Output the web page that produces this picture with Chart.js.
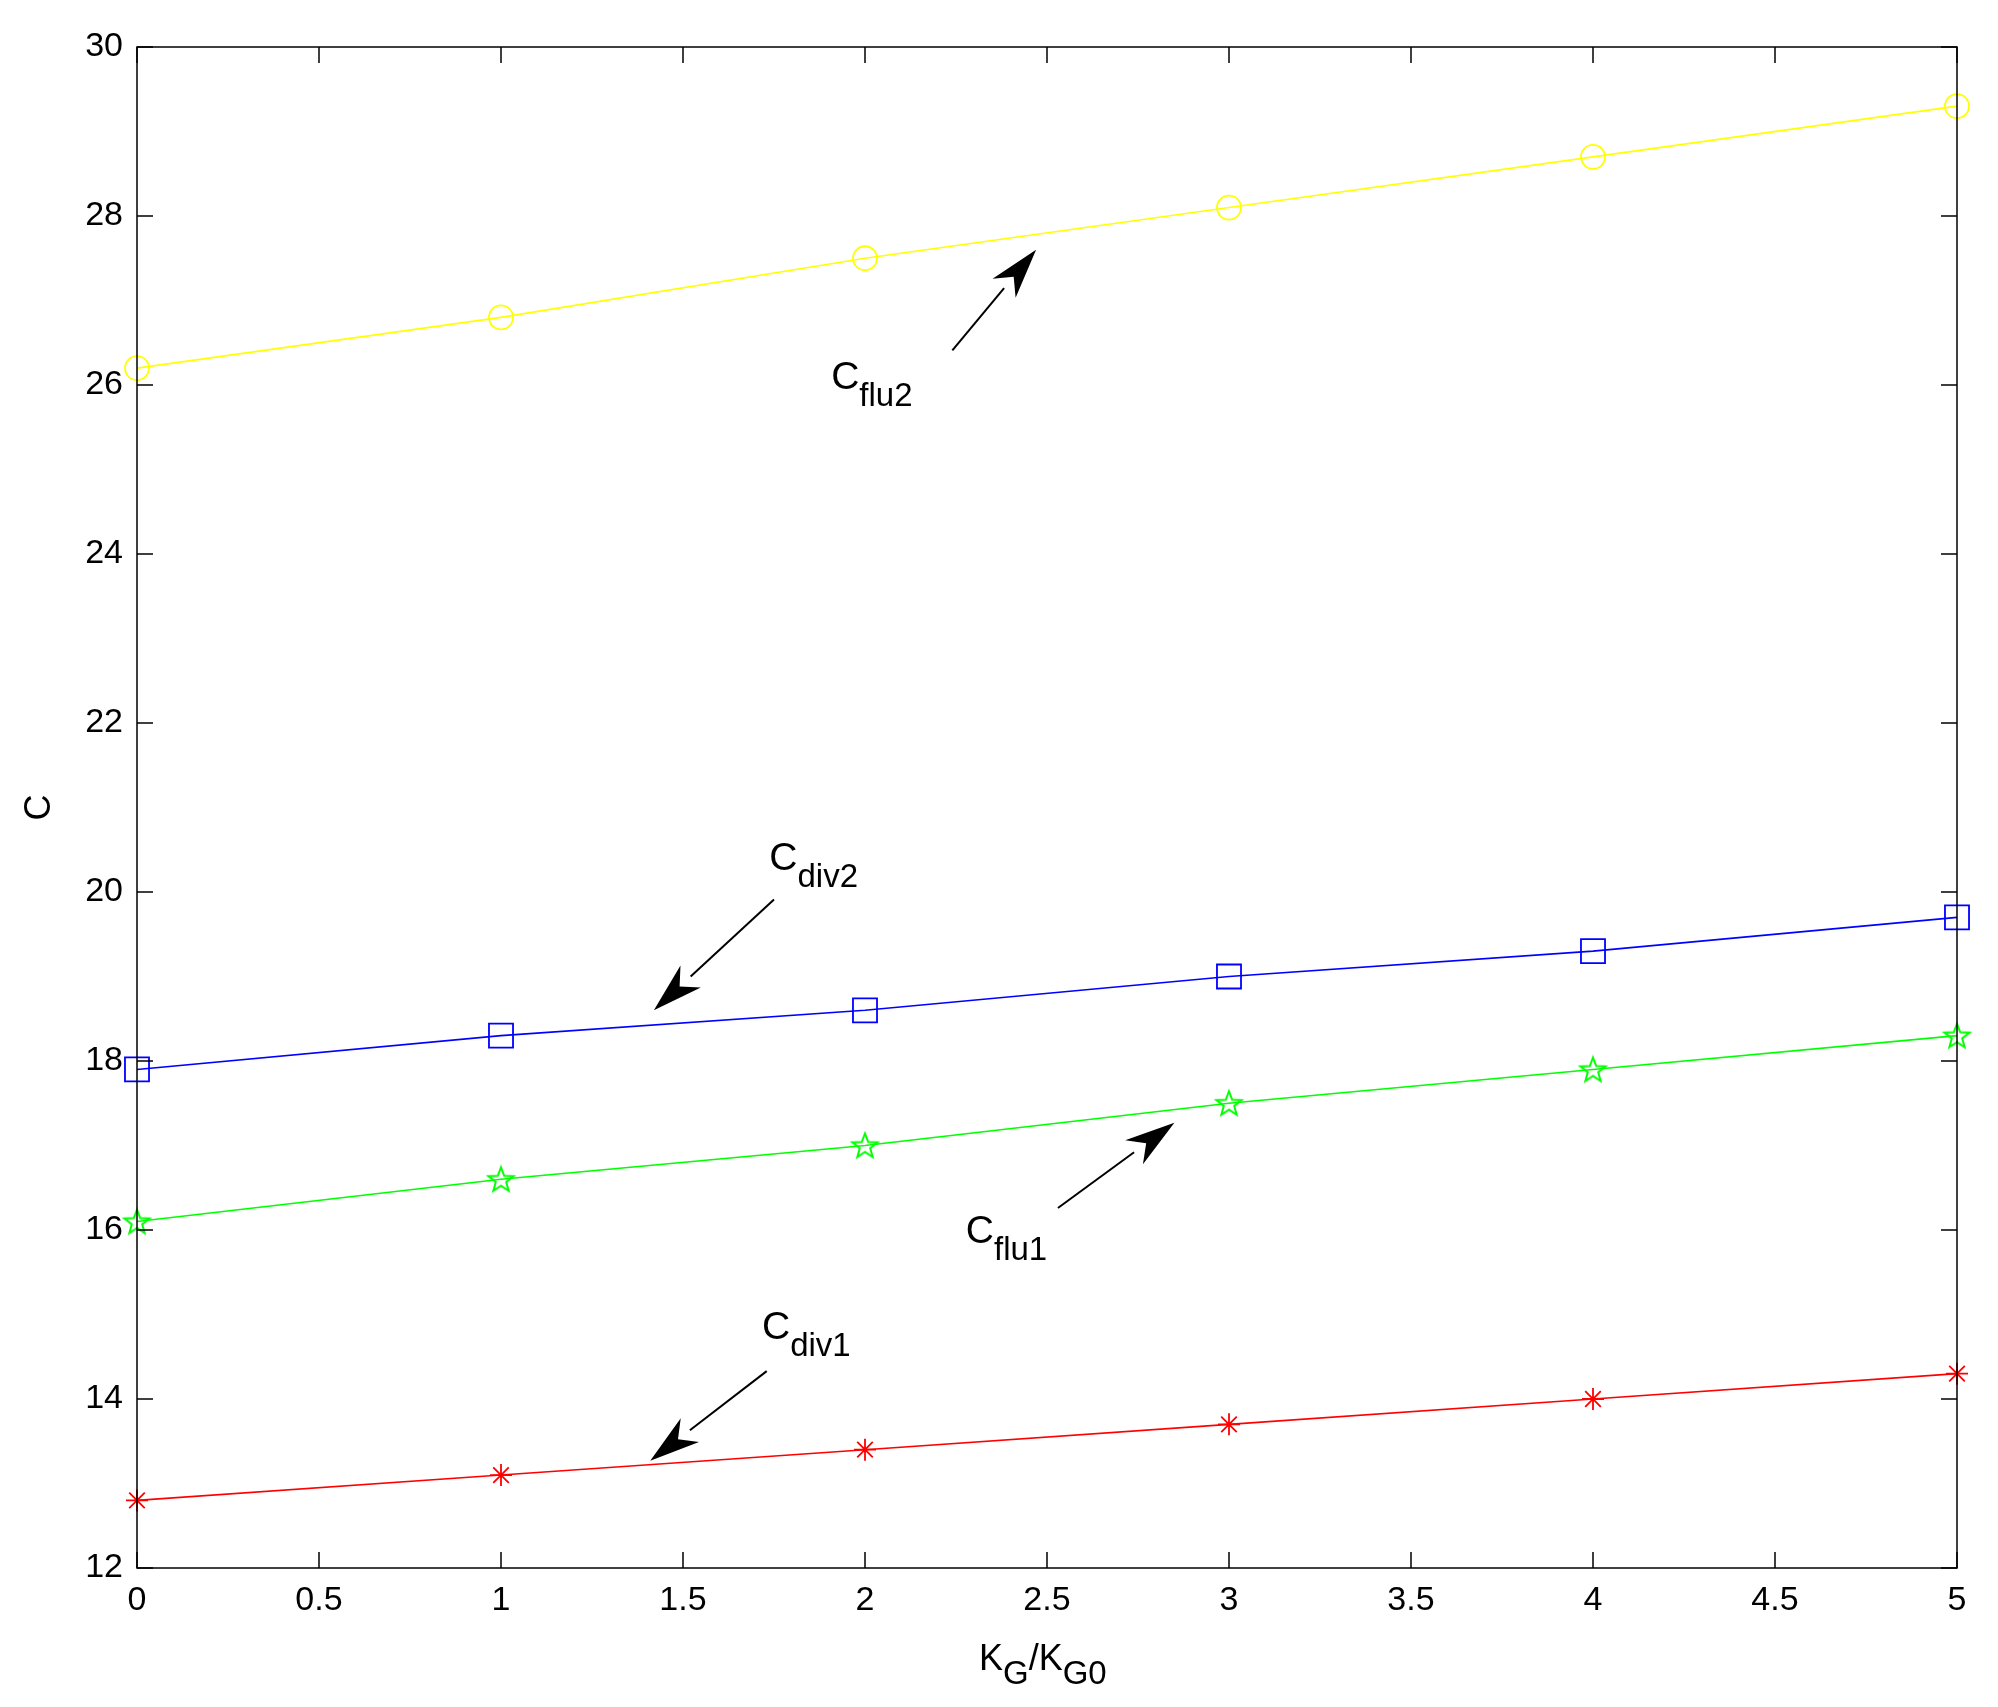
<!DOCTYPE html>
<html>
<head>
<meta charset="utf-8">
<script src="https://cdn.jsdelivr.net/npm/chart.js@4/dist/chart.umd.min.js"></script>
<style>
  html, body { margin: 0; padding: 0; background: #fff; }
  #wrap { width: 1998px; height: 1707px; }
</style>
</head>
<body>
<div id="wrap"><canvas id="chart"></canvas></div>
<script>
const xValues = [0, 1, 2, 3, 4, 5];
const cFlu2 = [26.2, 26.8, 27.5, 28.1, 28.7, 29.3];
const cDiv2 = [17.9, 18.3, 18.6, 19.0, 19.3, 19.7];
const cFlu1 = [16.1, 16.6, 17.0, 17.5, 17.9, 18.3];
const cDiv1 = [12.8, 13.1, 13.4, 13.7, 14.0, 14.3];

// annotation labels: [textX, textY, subscript, tailX, tailY, headX, headY]
const notes = [
    [1.94, 26.1, 'flu2', 2.24, 26.41, 2.47, 27.6],
    [1.77, 20.4, 'div2', 1.75, 19.91, 1.42, 18.6],
    [2.31, 15.99, 'flu1', 2.53, 16.26, 2.85, 17.27],
    [1.75, 14.85, 'div1', 1.73, 14.33, 1.41, 13.27],
];

const FONT = 'Liberation Sans, Arial, sans-serif';

function starImage(color) {
    const c = document.createElement('canvas');
    c.width = 30; c.height = 30;
    const g = c.getContext('2d');
    g.strokeStyle = color; g.lineWidth = 2;
    g.beginPath();
    for (let i = 0; i < 10; i++) {
        const r = i % 2 === 0 ? 13 : 5.5;
        const a = -Math.PI / 2 + i * Math.PI / 5;
        const px = 15 + r * Math.cos(a), py = 16 + r * Math.sin(a);
        if (i === 0) g.moveTo(px, py); else g.lineTo(px, py);
    }
    g.closePath(); g.stroke();
    return c;
}

function toPts(arr) {
    return xValues.map((x, i) => ({ x: x, y: arr[i] }));
}

function dataset(label, arr, color, style, radius) {
    return {
        label: label, data: toPts(arr), borderColor: color, backgroundColor: 'transparent',
        borderWidth: 1.6, pointStyle: style, pointRadius: radius, pointBorderColor: color,
        pointBorderWidth: 1.8, tension: 0, clip: false,
    };
}

const framePlugin = {
    id: 'frame',
    afterDraw(chart) {
        const ctx = chart.ctx, a = chart.chartArea;
        const xs = chart.scales.x, ys = chart.scales.y;
        ctx.save();
        ctx.strokeStyle = '#000'; ctx.lineWidth = 1.5;
        ctx.strokeRect(a.left, a.top, a.right - a.left, a.bottom - a.top);
        ctx.beginPath();
        for (let v = 0; v <= 5.0001; v += 0.5) {
            const px = xs.getPixelForValue(v);
            ctx.moveTo(px, a.bottom); ctx.lineTo(px, a.bottom - 16);
            ctx.moveTo(px, a.top); ctx.lineTo(px, a.top + 16);
        }
        for (let v = 12; v <= 30; v += 2) {
            const py = ys.getPixelForValue(v);
            ctx.moveTo(a.left, py); ctx.lineTo(a.left + 16, py);
            ctx.moveTo(a.right, py); ctx.lineTo(a.right - 16, py);
        }
        ctx.stroke();

        // axis titles
        ctx.fillStyle = '#000';
        ctx.textBaseline = 'alphabetic';
        let x0 = (a.left + a.right) / 2 - 68, y0 = 1670;
        const parts = [['K', 0], ['G', 1], ['/K', 0], ['G0', 1]];
        parts.forEach(([t, sub]) => {
            ctx.font = (sub ? '33px ' : '36px ') + FONT;
            ctx.fillText(t, x0, y0 + (sub ? 14 : 0));
            x0 += ctx.measureText(t).width;
        });
        ctx.save();
        ctx.translate(50, (a.top + a.bottom) / 2);
        ctx.rotate(-Math.PI / 2);
        ctx.font = '36px ' + FONT; ctx.textAlign = 'center';
        ctx.fillText('C', 0, 0);
        ctx.restore();

        // annotations
        notes.forEach(([tx, ty, sub, x1, y1, x2, y2]) => {
            const px1 = xs.getPixelForValue(x1), py1 = ys.getPixelForValue(y1);
            const px2 = xs.getPixelForValue(x2), py2 = ys.getPixelForValue(y2);
            const ang = Math.atan2(py2 - py1, px2 - px1);
            const L = 50, W = 15;
            const bx = px2 - L * Math.cos(ang), by = py2 - L * Math.sin(ang);
            ctx.strokeStyle = '#000'; ctx.lineWidth = 2;
            ctx.beginPath(); ctx.moveTo(px1, py1); ctx.lineTo(bx, by); ctx.stroke();
            ctx.beginPath();
            ctx.moveTo(px2, py2);
            ctx.lineTo(bx + W * Math.sin(ang), by - W * Math.cos(ang));
            ctx.lineTo(px2 - L * 0.7 * Math.cos(ang), py2 - L * 0.7 * Math.sin(ang));
            ctx.lineTo(bx - W * Math.sin(ang), by + W * Math.cos(ang));
            ctx.closePath(); ctx.fill();
            const qx = xs.getPixelForValue(tx), qy = ys.getPixelForValue(ty);
            ctx.font = '39px ' + FONT;
            ctx.fillText('C', qx - 12, qy + 12);
            const w = ctx.measureText('C').width;
            ctx.font = '33px ' + FONT;
            ctx.fillText(sub, qx - 12 + w, qy + 29);
        });
        ctx.restore();
    },
};

new Chart(document.getElementById('chart'), {
    type: 'line',
    data: {
        datasets: [
            dataset('Cflu2', cFlu2, '#ffff00', 'circle', 12),
            dataset('Cdiv2', cDiv2, '#0000ff', 'rect', 17),
            dataset('Cflu1', cFlu1, '#00ff00', starImage('#00ff00'), 12),
            dataset('Cdiv1', cDiv1, '#ff0000', 'star', 11),
        ],
    },
    options: {
        responsive: true,
        maintainAspectRatio: false,
        animation: false,
        layout: { padding: { top: 47, right: 41, left: 0, bottom: 0 } },
        plugins: { legend: { display: false }, tooltip: { enabled: false } },
        scales: {
            x: {
                type: 'linear', min: 0, max: 5,
                afterFit: (s) => { s.height = 139; },
                grid: { display: false, drawTicks: false },
                border: { display: false },
                ticks: { stepSize: 0.5, color: '#000', padding: 12, font: { size: 34, family: FONT },
                    callback: (v) => String(v) },
            },
            y: {
                min: 12, max: 30,
                afterFit: (s) => { s.width = 137; },
                grid: { display: false, drawTicks: false },
                border: { display: false },
                ticks: { stepSize: 2, color: '#000', padding: 14, font: { size: 34, family: FONT } },
            },
        },
    },
    plugins: [framePlugin],
});
</script>
</body>
</html>
